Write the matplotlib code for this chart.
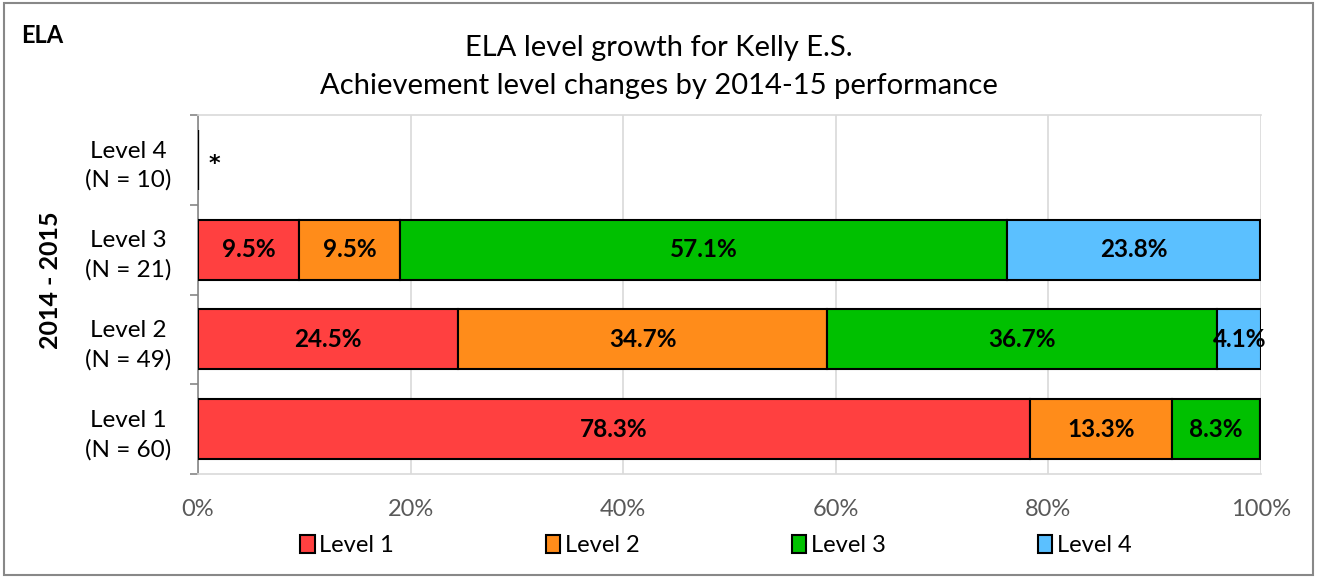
import numpy as np
import matplotlib.pyplot as plt
from matplotlib.patches import Rectangle

plt.rcParams['font.family'] = ['Lato', 'DejaVu Sans']

# Data (percent of students by 2015-16 level, per 2014-15 level)
row_labels = ["Level 1\n(N = 60)", "Level 2\n(N = 49)", "Level 3\n(N = 21)", "Level 4\n(N = 10)"]
series_names = ["Level 1", "Level 2", "Level 3", "Level 4"]
level1 = [78.3, 24.5, 9.5, np.nan]
level2 = [13.3, 34.7, 9.5, np.nan]
level3 = [8.3, 36.7, 57.1, np.nan]
level4 = [0.0, 4.1, 23.8, np.nan]
colors = ["#FF4040", "#FF8C1A", "#00C000", "#5BC0FF"]
suppressed_row = 3

fig = plt.figure(figsize=(13.17, 5.77), dpi=100)
ax = fig.add_axes([0.1503, 0.1785, 0.8072, 0.6222])

y = np.arange(len(row_labels))
left = np.zeros(len(row_labels))
for vals, name, col in zip([level1, level2, level3, level4], series_names, colors):
    v = np.nan_to_num(np.array(vals, dtype=float))
    ax.barh(y, v, left=left, height=0.67, color=col, edgecolor="black",
            linewidth=1.5, label=name, zorder=3)
    for yi, (l, w) in enumerate(zip(left, v)):
        if w > 0:
            ax.text(l + w / 2, yi, f"{w:.1f}%", ha="center", va="center",
                    fontsize=17.5, fontweight="bold", zorder=4)
    left += v

# suppressed row marker
ax.text(1.0, suppressed_row - 0.05, "*", ha="left", va="center", fontsize=16,
        fontweight="bold", family="DejaVu Sans")

ax.set_xlim(0, 100)
ax.set_ylim(-0.5, 3.5)
ax.set_xticks(np.arange(0, 101, 20))
ax.set_xticklabels([f"{t}%" for t in range(0, 101, 20)])
ax.set_yticks(y)
ax.set_yticklabels(row_labels, multialignment="center", linespacing=1.45)
ax.set_yticks(np.arange(-0.5, 3.6, 1), minor=True)
ax.tick_params(axis="y", which="major", length=0, pad=19, labelsize=17.5)
ax.tick_params(axis="y", which="minor", length=6, color="#868686", width=1.2)
ax.tick_params(axis="x", length=0, pad=18, labelsize=17, labelcolor="#595959")
ax.grid(axis="x", color="#D9D9D9", linewidth=1.2, zorder=0)

ax.spines["left"].set_color("#868686")
ax.spines["left"].set_linewidth(1.2)
for s in ["top", "bottom"]:
    ax.spines[s].set_color("#D9D9D9")
    ax.spines[s].set_linewidth(1.2)
ax.spines["right"].set_visible(False)

fig.text(0.038, 0.515, "2014 - 2015", rotation=90, ha="center", va="center",
         fontsize=18, fontweight="bold")

fig.text(0.5, 0.917, "ELA level growth for Kelly E.S.", ha="center", va="center", fontsize=21)
fig.text(0.5, 0.851, "Achievement level changes by 2014-15 performance",
         ha="center", va="center", fontsize=21)
fig.text(0.016, 0.938, "ELA", ha="left", va="center", fontsize=17, fontweight="bold")

fig.legend(loc="center", bbox_to_anchor=(0.5437, 0.055), ncol=4, frameon=False,
           fontsize=17, handlelength=0.6, handleheight=0.8, handletextpad=0.2,
           columnspacing=6.45)

fig.add_artist(Rectangle((0.003, 0.004), 0.994, 0.99, transform=fig.transFigure,
                         fill=False, edgecolor="#888888", linewidth=1.5))

fig.savefig("out.png", dpi=100)
